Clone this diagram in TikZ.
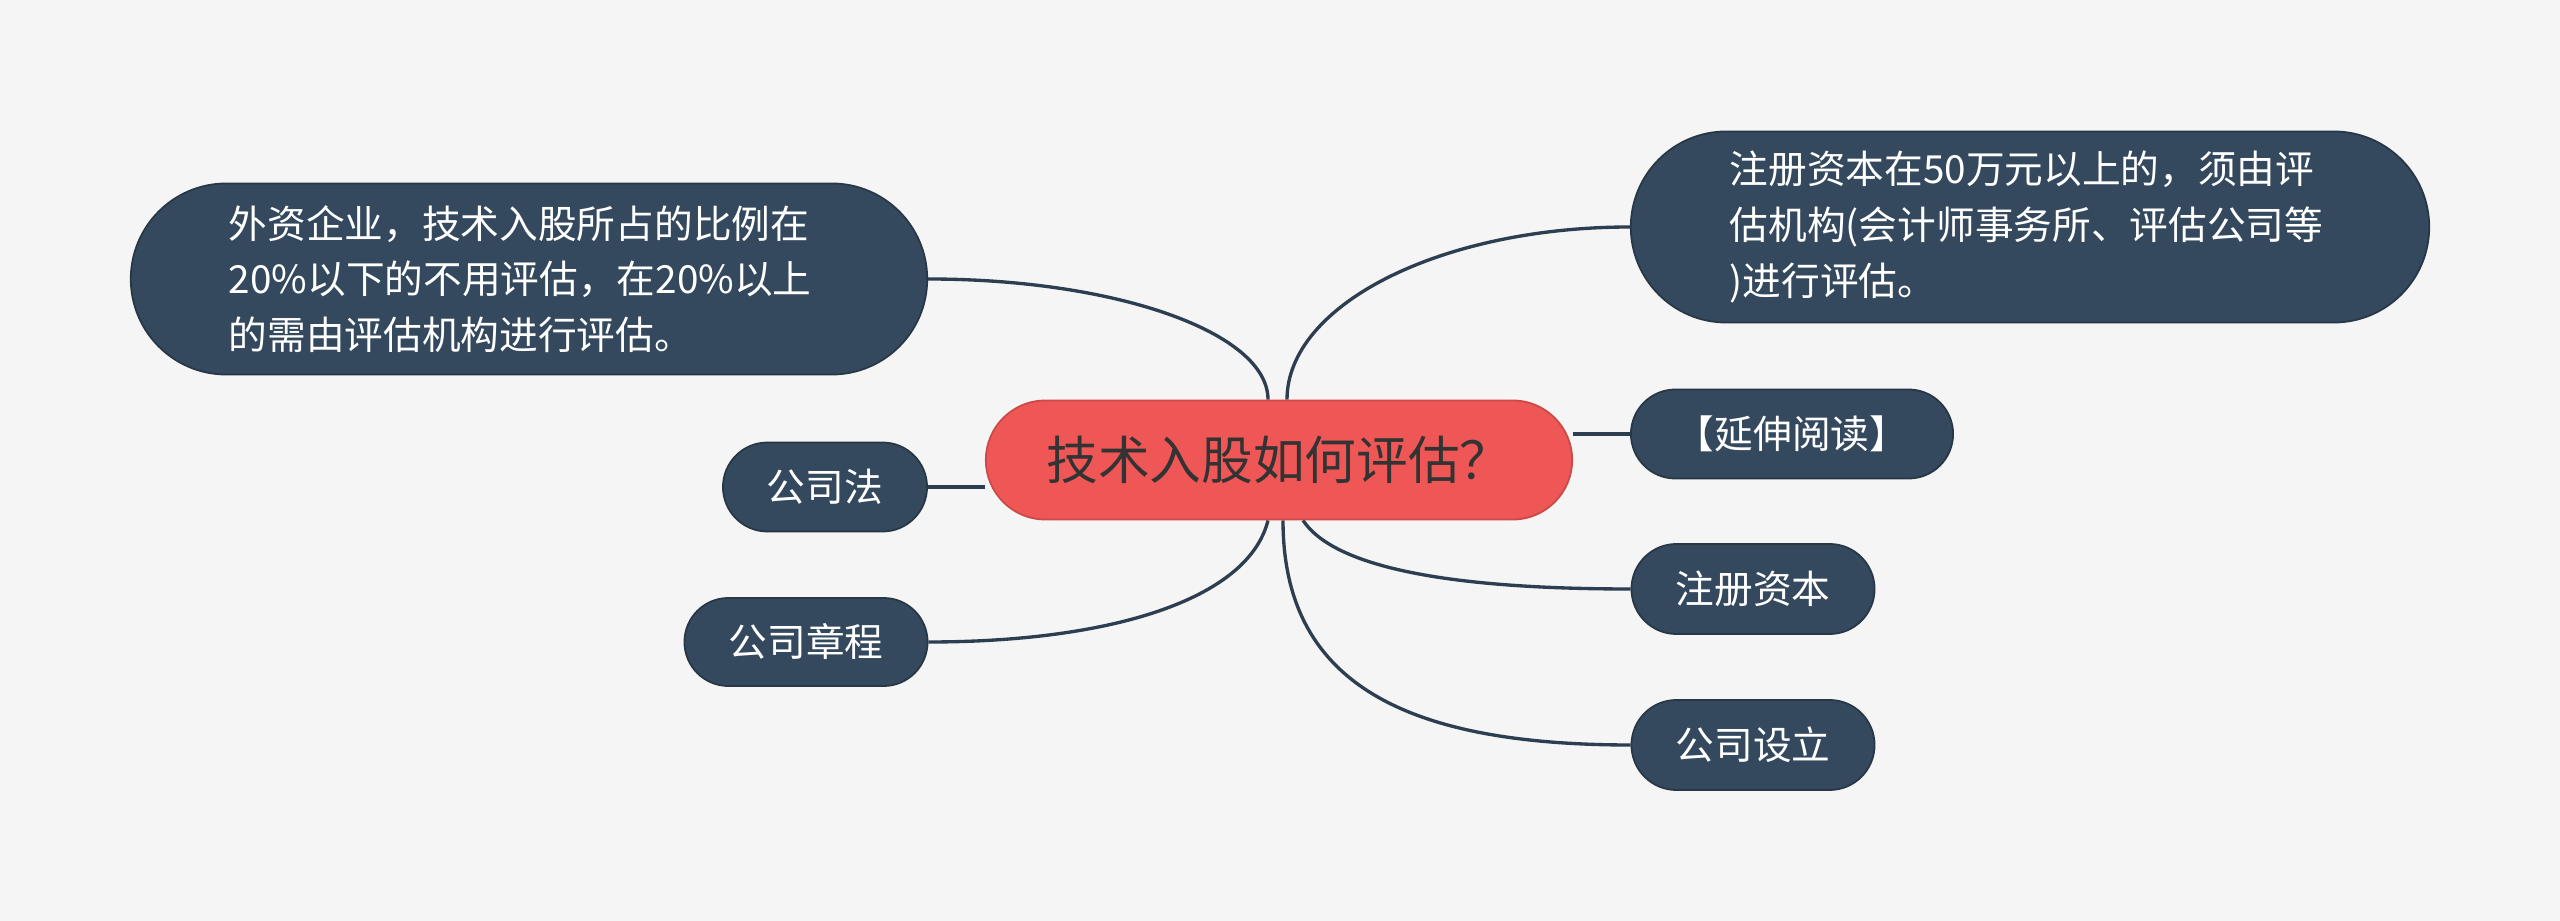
\documentclass[tikz,border=0pt]{standalone}
\usepackage{fontspec}
\newfontfamily\cjk{Noto Sans CJK SC}
\usetikzlibrary{shapes.misc, backgrounds}

\definecolor{bgcol}{HTML}{F5F5F5}
\definecolor{topiccol}{HTML}{EF5656}
\definecolor{leafcol}{HTML}{34495E}
\definecolor{linecol}{HTML}{2C3E50}

\begin{document}
\begin{tikzpicture}[x=0.01cm, y=0.01cm, conn/.style={draw=linecol, line width=0.95pt}]

\begin{scope}[every node/.style={rounded rectangle, draw=leafcol!75!black, line width=0.5pt, fill=leafcol, text=white, inner sep=0pt, font=\cjk\fontsize{11pt}{15.8pt}\selectfont}]
    \node (q) at (1279, 461) [fill=topiccol, draw=topiccol!85!black, text=black!80, minimum width=5.86cm, minimum height=1.19cm, font=\cjk\fontsize{14.7pt}{18pt}\selectfont] {技术入股如何评估？};

    \node (foreign) at (529, 642) [minimum width=7.96cm, minimum height=1.91cm, text width=6cm, align=left] {外资企业，技术入股所占的比例在\\20\%以下的不用评估，在20\%以上\\的需由评估机构进行评估。};
    \node (law) at (825, 434) [minimum width=2.04cm, minimum height=0.89cm] {公司法};
    \node (charter) at (806, 279) [minimum width=2.43cm, minimum height=0.88cm] {公司章程};

    \node (cap50) at (2030, 694) [minimum width=7.98cm, minimum height=1.91cm, text width=6cm, align=left] {注册资本在50万元以上的，须由评\\估机构(会计师事务所、评估公司等\\)进行评估。};
    \node (ext) at (1792, 487) [minimum width=3.22cm, minimum height=0.89cm] {【延伸阅读】};
    \node (regcap) at (1753, 332) [minimum width=2.43cm, minimum height=0.90cm] {注册资本};
    \node (setup) at (1753, 176) [minimum width=2.43cm, minimum height=0.90cm] {公司设立};
\end{scope}

\begin{scope}[on background layer]
    \fill[bgcol] (0, 0) rectangle (2560, 921);

    \draw[conn] (foreign.east) .. controls +(188, 0) and +(0, 67) .. ([xshift=-0.11cm]q.north);
    \draw[conn] (law.east) -- (law.east -| q.west);
    \draw[conn] (charter.east) .. controls +(180, 0) and +(-20, -80) .. ([xshift=-0.11cm]q.south);

    \draw[conn] ([xshift=0.08cm]q.north) .. controls +(0, 95) and +(-189, 0) .. (cap50.west);
    \draw[conn] (ext.west -| q.east) -- (ext.west);
    \draw[conn] ([xshift=0.24cm]q.south) .. controls +(30, -45) and +(-190, 0) .. (regcap.west);
    \draw[conn] ([xshift=0.04cm]q.south) .. controls +(0, -160) and +(-230, 0) .. (setup.west);
\end{scope}

\end{tikzpicture}
\end{document}
